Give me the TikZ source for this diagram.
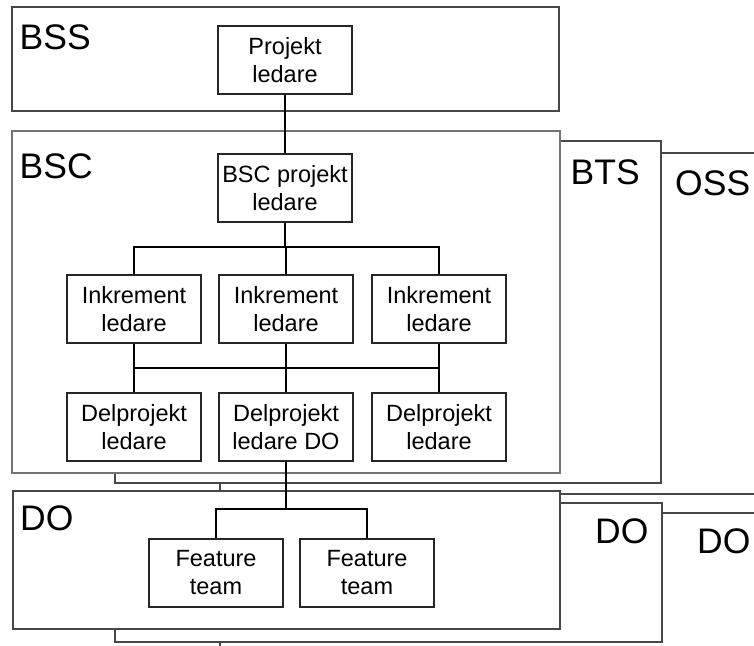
\documentclass[tikz,border=0pt]{standalone}
\usepackage{fontspec}
\setmainfont{Liberation Sans}
\begin{document}
\begin{tikzpicture}[x=1pt,y=-1pt,
  area/.style={draw=black!72,line width=1.2pt,fill=white},
  areafront/.style={draw=black!55,line width=1.5pt,fill=white},
  arealabel/.style={anchor=base west,inner sep=0pt,font=\fontsize{35.5}{40}\selectfont},
  role/.style={draw=black!85,line width=1.6pt,fill=white,minimum width=134pt,minimum height=68pt,
    inner sep=0pt,align=center,font=\fontsize{23.5}{28}\selectfont},
  link/.style={draw=black,line width=2pt}]
\useasboundingbox (0,0) rectangle (754,645);
\clip (0,0) rectangle (754,645);

% back layers of the stack
\draw[area] (220,153) rectangle (775,494);
\draw[area] (220,513) rectangle (775,665);
\draw[area] (115,141) rectangle (661,483);
\draw[area] (115,503) rectangle (662,642);
\node[arealabel] (lblOSS) at (675,195) {OSS};
\node[arealabel] (lblBTS) at (570.5,184) {BTS};
\node[arealabel] (lblDOc) at (697,553) {DO};
\node[arealabel] (lblDOb) at (595,543) {DO};

% front layers
\draw[area] (12,7) rectangle (559,111);
\draw[areafront] (12,131) rectangle (560,473);
\draw[area] (13,491) rectangle (560,629);
\node[arealabel] (lblBSS) at (19.5,49) {BSS};
\node[arealabel] (lblBSC) at (19.5,178) {BSC};
\node[arealabel] (lblDOa) at (20,530) {DO};

% roles
\node[role] (pl)    at (285,60)  {Projekt\\ledare};
\node[role] (bscpl) at (285,188) {BSC projekt\\ledare};
\node[role] (ink1)  at (134,309) {Inkrement\\ledare};
\node[role] (ink2)  at (286,309) {Inkrement\\ledare};
\node[role] (ink3)  at (439,309) {Inkrement\\ledare};
\node[role] (del1)  at (134,427) {Delprojekt\\ledare};
\node[role] (del2)  at (286,427) {Delprojekt\\ledare DO};
\node[role] (del3)  at (439,427) {Delprojekt\\ledare};
\node[role] (ft1)   at (216,573) {Feature\\team};
\node[role] (ft2)   at (367,573) {Feature\\team};

% bus levels
\coordinate (busA) at (0,247);
\coordinate (busB) at (0,367.5);
\coordinate (busC) at (0,509);

% connectors
\draw[link] (pl.south) -- (bscpl.north);
\draw[link] (bscpl.south) -- (bscpl.south |- busA);
\draw[link] (ink1.north) -- (ink1.north |- busA) -- (ink3.north |- busA) -- (ink3.north);
\draw[link] (ink2.north) -- (ink2.north |- busA);
\draw[link] (ink1.south) -- (del1.north);
\draw[link] (ink2.south) -- (del2.north);
\draw[link] (ink3.south) -- (del3.north);
\draw[link] (ink1.south |- busB) -- (ink3.south |- busB);
\draw[link] (del2.south) -- (del2.south |- busC);
\draw[link] (ft1.north) -- (ft1.north |- busC) -- (ft2.north |- busC) -- (ft2.north);
\end{tikzpicture}
\end{document}
